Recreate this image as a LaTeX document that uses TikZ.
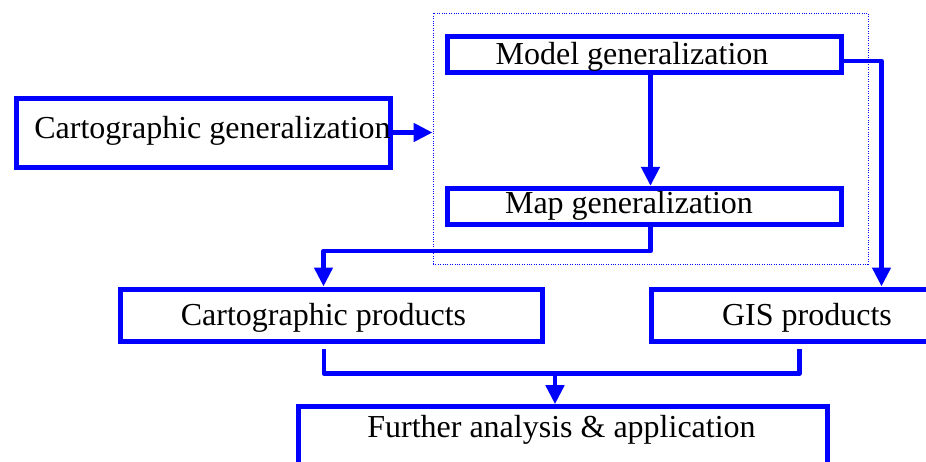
\documentclass[tikz,border=0pt]{standalone}
\usepackage{fontspec}
\setmainfont{Liberation Serif}
\usetikzlibrary{arrows.meta,calc}
\definecolor{flowblue}{RGB}{0,0,255}
\begin{document}
\begin{tikzpicture}[x=1pt,y=-1pt,
  box/.style={draw=flowblue, line width=5pt, rectangle, inner sep=0pt},
  group/.style={draw=flowblue, line width=0.9pt, dash pattern=on 1pt off 1.4pt, rectangle, inner sep=0pt},
  conn/.style={draw=flowblue, line width=4.6pt, line join=round},
  arr/.style={conn, -{Triangle[width=18pt,length=19pt]}},
  lbl/.style={inner sep=0pt, anchor=base, font=\fontsize{32}{38}\selectfont}
]
\useasboundingbox (0,0) rectangle (926,461);
\clip (0,0) rectangle (926,461);

% dotted group around the two generalization steps
\node[group, minimum width=435, minimum height=250.7] (gen) at (650.5,138.65) {};

% boxes
\node[box, minimum width=374, minimum height=69]   (cg)    at (203,132.5) {};
\node[box, minimum width=394, minimum height=35.5] (model) at (644,54.7) {};
\node[box, minimum width=394, minimum height=35.7] (map)   at (644,206.2) {};
\node[box, minimum width=422, minimum height=52]   (cp)    at (331,315) {};
\node[box, minimum width=312, minimum height=52.5] (gis)   at (807,315.25) {};
\node[box, minimum width=529, minimum height=80]   (fa)    at (562.5,446.7) {};

% labels
\node[lbl] (tcg)    at (212.5,138.5) {Cartographic generalization};
\node[lbl] (tmodel) at (632,64)      {Model generalization};
\node[lbl] (tmap)   at (629,213)     {Map generalization};
\node[lbl] (tcp)    at (323.5,325)   {Cartographic products};
\node[lbl] (tgis)   at (807,325)     {GIS products};
\node[lbl] (tfa)    at (561.5,437)   {Further analysis \& application};

% routing points
\coordinate (mx)    at (650.5,0);
\coordinate (gisx)  at (881.5,61);
\coordinate (bend1) at (650.5,251);
\coordinate (cpx)   at (323.5,251);
\coordinate (mt)    at (0,348.5);
\coordinate (ml)    at (324,373.5);
\coordinate (mr)    at (799.5,373.5);
\coordinate (mc)    at (555,373.5);

% connectors
\draw[arr] (cg.east) -- (cg.east -| gen.west);
\draw[arr] (mx |- model.south) -- (mx |- map.north);
\draw[arr] (gisx -| model.east) -- (gisx) -- (gisx |- gis.north);
\draw[arr] (mx |- map.south) -- (bend1) -- (cpx) -- (cpx |- cp.north);
\draw[conn] (ml |- mt) -- (ml) -- (mr) -- (mr |- mt);
\draw[arr] (mc) -- (mc |- fa.north);
\end{tikzpicture}
\end{document}
